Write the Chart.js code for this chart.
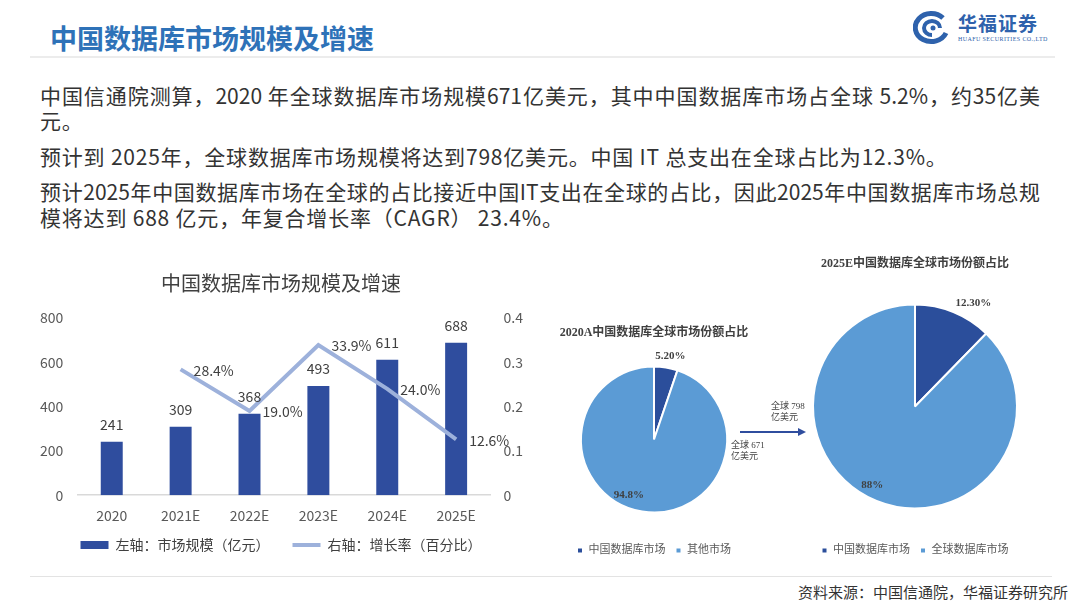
<!DOCTYPE html>
<html>
<head>
<meta charset="utf-8">
<script src="https://cdn.jsdelivr.net/npm/chart.js@4.4.1/dist/chart.umd.min.js"></script>
<style>
  body { margin: 0; background: #fff; }
  #page { position: relative; width: 1080px; height: 608px; overflow: hidden;
          font-family: "Noto Sans CJK SC", "Noto Sans", sans-serif; color: #333; }
  .abs { position: absolute; white-space: nowrap; }
  .para { position: absolute; left: 40px; font-size: 21px; line-height: 26px; color: #333; white-space: nowrap; letter-spacing: 0.8px; }
  .just { width: 1000px; text-align: justify; text-align-last: justify; letter-spacing: 0; }
  .note { position: absolute; font-family: "Liberation Serif", "Noto Sans CJK SC", serif; font-size: 9px; line-height: 11px; color: #404040; }
  canvas { position: absolute; }
</style>
</head>
<body>
<div id="page">
  <div class="abs" style="left:50px;top:20px;font-size:27px;font-weight:bold;color:#2E72B8;line-height:36px;">中国数据库市场规模及增速</div>
  <div class="abs" style="left:30px;top:56px;width:1025px;height:2px;background:#ececec;"></div>

  <svg class="abs" style="left:913px;top:11px" width="40" height="34" viewBox="0 0 40 34">
    <path d="M 33 22 A 16 14 0 1 1 30 7" fill="none" stroke="#2E62AC" stroke-width="5"/>
    <path d="M 27 17 A 8 7 0 1 0 19 24" fill="none" stroke="#2E62AC" stroke-width="4"/>
    <circle cx="20" cy="17" r="2.5" fill="#2E62AC"/>
  </svg>
  <div class="abs" style="left:958px;top:13px;font-family:'Liberation Serif','Noto Sans CJK SC',serif;font-size:19px;font-weight:bold;color:#2E62AC;line-height:24px;letter-spacing:1px;">华福证券</div>
  <div class="abs" style="left:958px;top:36px;font-family:'Liberation Serif',serif;font-size:6px;color:#2E62AC;letter-spacing:0.4px;">HUAFU SECURITIES CO.,LTD</div>

  <div class="para just" style="top:82px;">中国信通院测算，2020 年全球数据库市场规模671亿美元，其中中国数据库市场占全球 5.2%，约35亿美</div>
  <div class="para" style="top:107px;">元。</div>
  <div class="para" style="top:143px;">预计到 2025年，全球数据库市场规模将达到798亿美元。中国 IT 总支出在全球占比为12.3%。</div>
  <div class="para just" style="top:178px;">预计2025年中国数据库市场在全球的占比接近中国IT支出在全球的占比，因此2025年中国数据库市场总规</div>
  <div class="para" style="top:204px;">模将达到 688 亿元，年复合增长率（CAGR） 23.4%。</div>

  <canvas id="barChart" width="525" height="300" style="left:18px;top:262px;"></canvas>
  <canvas id="pie2020" width="200" height="248" style="left:554px;top:318px;"></canvas>
  <canvas id="pie2025" width="220" height="317" style="left:805px;top:249px;"></canvas>

  <div class="note" style="left:731px;top:440px;">全球 671<br>亿美元</div>
  <div class="note" style="left:771px;top:401px;">全球 798<br>亿美元</div>
  <svg class="abs" style="left:738px;top:426px" width="72" height="12">
    <line x1="2" y1="6" x2="62" y2="6" stroke="#2F4D9E" stroke-width="2"/>
    <path d="M 60 2 L 68 6 L 60 10 Z" fill="#2F4D9E"/>
  </svg>

  <div class="abs" style="left:30px;top:576px;width:1022px;height:1px;background:#e3e3e3;"></div>
  <div class="abs" style="right:12px;top:582px;font-size:15px;line-height:20px;color:#333;">资料来源：中国信通院，华福证券研究所</div>
</div>

<script>
// 中国数据库市场规模（亿元）及增速
const years = ['2020', '2021E', '2022E', '2023E', '2024E', '2025E'];
const marketSize = [241, 309, 368, 493, 611, 688];
const growthRate = [null, 0.284, 0.190, 0.339, 0.240, 0.126];
const growthText = [null, '28.4%', '19.0%', '33.9%', '24.0%', '12.6%'];

// 全球市场份额
const pie2020Labels = ['中国数据库市场', '其他市场'];
const pie2020Values = [5.2, 94.8];
const pie2020Text = ['5.20%', '94.8%'];
const pie2025Labels = ['中国数据库市场', '全球数据库市场'];
const pie2025Values = [12.3, 87.7];
const pie2025Text = ['12.30%', '88%'];

const sans = '"Noto Sans CJK SC", "Noto Sans", sans-serif';
const serif = '"Liberation Serif", "Noto Sans CJK SC", serif';
Chart.defaults.font.family = sans;

const barLabels = {
  id: 'barLabels',
  afterDatasetsDraw(chart) {
    const ctx = chart.ctx;
    ctx.save();
    ctx.font = '14px ' + sans;
    ctx.fillStyle = '#404040';
    ctx.textBaseline = 'middle';
    ctx.textAlign = 'center';
    chart.getDatasetMeta(0).data.forEach((bar, i) => {
      ctx.fillText(String(marketSize[i]), bar.x, bar.y - 17);
    });
    ctx.textAlign = 'left';
    chart.getDatasetMeta(1).data.forEach((pt, i) => {
      if (growthText[i] == null) return;
      ctx.fillText(growthText[i], pt.x + 13, pt.y + 1);
    });
    ctx.restore();
  }
};

new Chart(document.getElementById('barChart'), {
  data: {
    labels: years,
    datasets: [{
      type: 'bar',
      label: '左轴：市场规模（亿元）',
      data: marketSize,
      yAxisID: 'y',
      backgroundColor: '#2F4D9E',
      barPercentage: 0.55,
      categoryPercentage: 0.58,
      pointStyle: 'rect',
      order: 1
    }, {
      type: 'line',
      label: '右轴：增长率（百分比）',
      data: growthRate,
      yAxisID: 'y1',
      borderColor: '#9DB1DB',
      backgroundColor: '#9DB1DB',
      borderWidth: 4,
      pointRadius: 0,
      pointBorderWidth: 4,
      pointBorderColor: '#9DB1DB',
      pointStyle: 'line',
      order: 0
    }]
  },
  options: {
    responsive: false,
    animation: false,
    layout: { padding: { left: 8, right: 7, top: 0, bottom: 0 } },
    plugins: {
      title: {
        display: true,
        text: '中国数据库市场规模及增速',
        color: '#404040',
        font: { size: 20, weight: 'normal' },
        padding: { top: 9, bottom: 23 }
      },
      legend: {
        position: 'bottom',
        labels: {
          usePointStyle: true,
          pointStyleWidth: 28,
          boxHeight: 8,
          color: '#404040',
          font: { size: 14 },
          padding: 2,
          sort: (a, b) => a.datasetIndex - b.datasetIndex,
          generateLabels(chart) {
            const items = Chart.defaults.plugins.legend.labels.generateLabels(chart);
            items.forEach(it => { if (it.datasetIndex === 0) it.text += '\u3000\u3000'; });
            return items;
          }
        }
      },
      tooltip: { enabled: false }
    },
    scales: {
      x: {
        grid: { display: false, drawTicks: false },
        border: { display: true, color: '#D9D9D9', width: 1.5 },
        ticks: { color: '#595959', font: { size: 14 }, padding: 12 }
      },
      y: {
        position: 'left',
        min: 0, max: 800,
        grid: { display: false, drawTicks: false },
        border: { display: false },
        ticks: { stepSize: 200, color: '#595959', font: { size: 14 }, padding: 14 }
      },
      y1: {
        position: 'right',
        min: 0, max: 0.4,
        grid: { display: false, drawTicks: false },
        border: { display: false },
        ticks: { stepSize: 0.1, color: '#595959', font: { size: 14 }, padding: 13 }
      }
    }
  },
  plugins: [barLabels]
});

const sliceLabels = {
  id: 'sliceLabels',
  afterDatasetsDraw(chart, args, opts) {
    const ctx = chart.ctx;
    ctx.save();
    ctx.font = 'bold 11px ' + serif;
    ctx.fillStyle = '#404040';
    ctx.textAlign = 'center';
    ctx.textBaseline = 'middle';
    chart.getDatasetMeta(0).data.forEach((arc, i) => {
      const mid = (arc.startAngle + arc.endAngle) / 2 + opts.shift[i];
      const r = arc.outerRadius * opts.dist[i];
      ctx.fillText(opts.texts[i], arc.x + Math.cos(mid) * r, arc.y + Math.sin(mid) * r);
    });
    ctx.restore();
  }
};

function pieConfig(labels, values, texts, title, radius, titleBottom, shift, dist) {
  return {
    type: 'pie',
    data: {
      labels: labels,
      datasets: [{
        data: values,
        backgroundColor: ['#2B4E9B', '#5B9BD5'],
        borderColor: '#ffffff',
        borderWidth: 2,
        radius: radius
      }]
    },
    options: {
      responsive: false,
      animation: false,
      plugins: {
        title: {
          display: true,
          text: title,
          color: '#404040',
          font: { size: 12, weight: 'bold', family: serif },
          padding: { top: 8, bottom: titleBottom }
        },
        legend: {
          position: 'bottom',
          labels: {
            boxWidth: 6,
            boxHeight: 6,
            color: '#595959',
            font: { size: 11, family: serif },
            padding: 10
          }
        },
        tooltip: { enabled: false },
        sliceLabels: { texts: texts, shift: shift, dist: dist }
      }
    },
    plugins: [sliceLabels]
  };
}

new Chart(document.getElementById('pie2020'),
  pieConfig(pie2020Labels, pie2020Values, pie2020Text, '2020A中国数据库全球市场份额占比', 73, 3.6, [0.03, 0.26], [1.16, 0.84]));
new Chart(document.getElementById('pie2025'),
  pieConfig(pie2025Labels, pie2025Values, pie2025Text, '2025E中国数据库全球市场份额占比', 102, 6.6, [0.13, 0.11], [1.16, 0.88]));
</script>
</body>
</html>
